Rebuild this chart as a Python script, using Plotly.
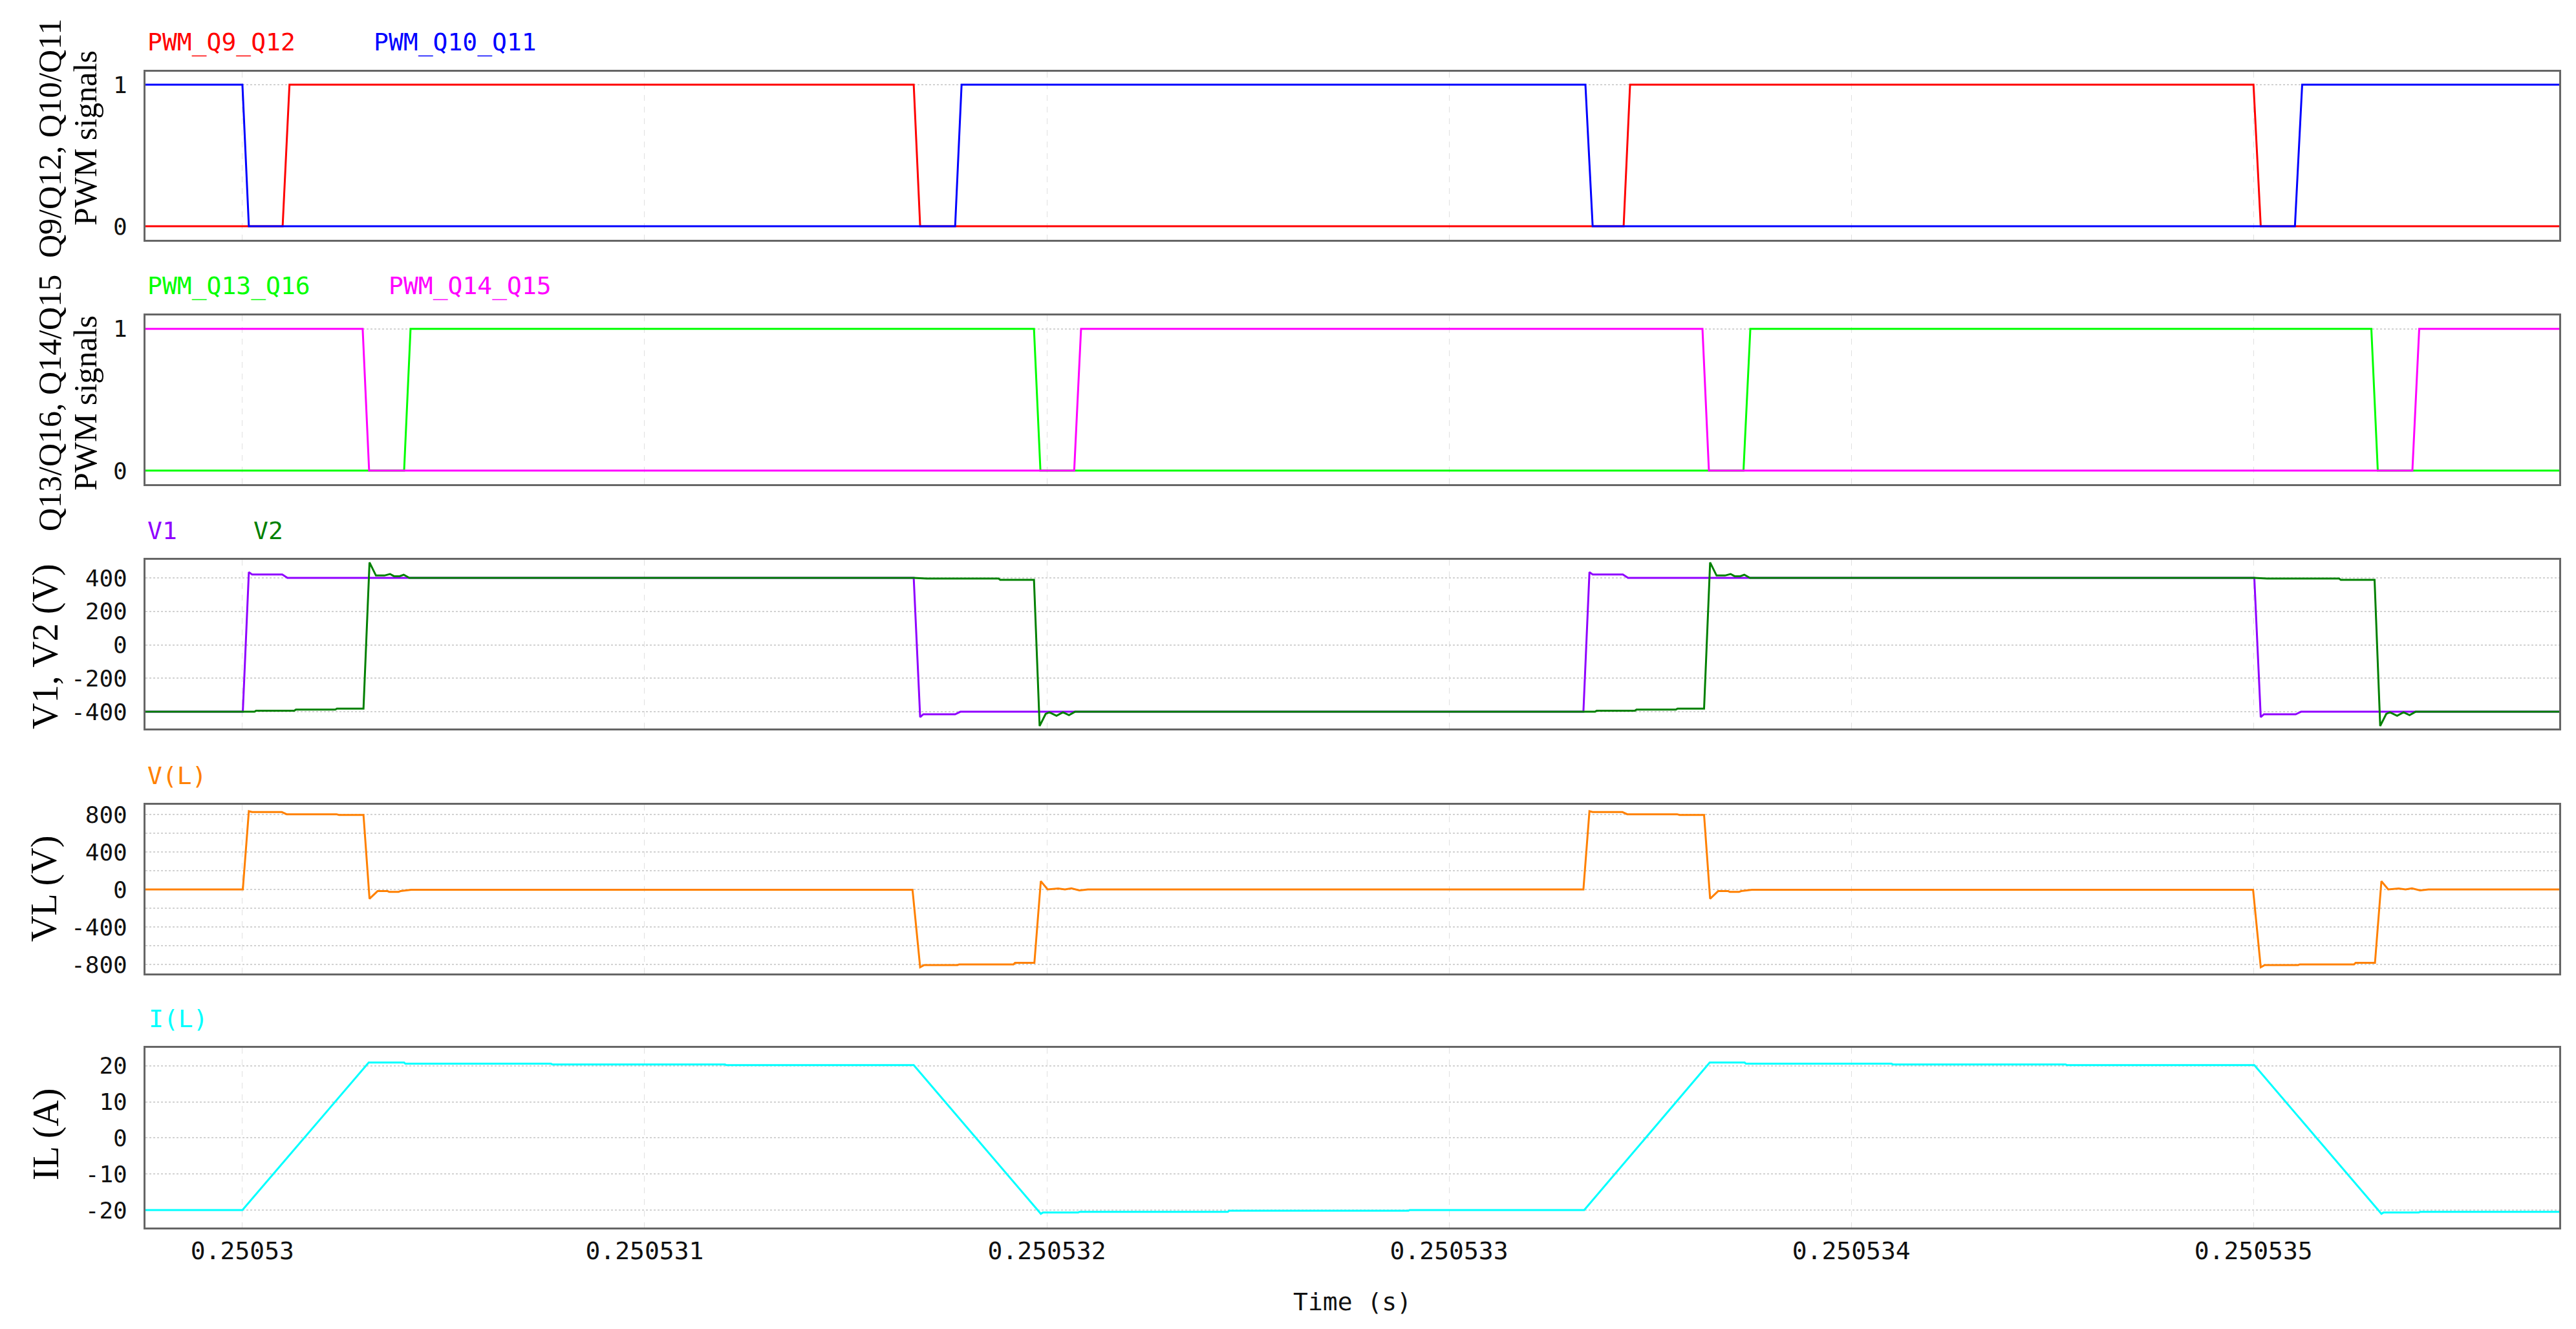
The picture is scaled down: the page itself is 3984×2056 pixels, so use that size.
import plotly.graph_objects as go
from plotly.subplots import make_subplots

# ---------------- data (time offsets in microseconds after 0.25053 s) -------------
T0 = 0.25053
US = 1e-6

t_q9 = [-0.25, 0.100, 0.117, 1.669, 1.685, 3.434, 3.450, 5.000, 5.018, 5.77]
v_q9 = [0, 0, 1, 1, 0, 0, 1, 1, 0, 0]
t_q10 = [-0.25, 0.000, 0.016, 1.772, 1.788, 3.339, 3.357, 5.103, 5.121, 5.77]
v_q10 = [1, 1, 0, 0, 1, 1, 0, 0, 1, 1]

t_q13 = [-0.25, 0.402, 0.418, 1.968, 1.984, 3.732, 3.749, 5.293, 5.309, 5.77]
v_q13 = [0, 0, 1, 1, 0, 0, 1, 1, 0, 0]
t_q14 = [-0.25, 0.299, 0.315, 2.068, 2.085, 3.630, 3.646, 5.395, 5.412, 5.77]
v_q14 = [1, 1, 0, 0, 1, 1, 0, 0, 1, 1]

t_v1 = [-0.25, 0.001, 0.016, 0.024, 0.099, 0.112, 1.669, 1.685, 1.693, 1.772, 1.785,
        3.334, 3.349, 3.357, 3.432, 3.445, 5.002, 5.018, 5.026, 5.105, 5.118, 5.77]
v_v1 = [-400, -400, 434, 420, 420, 400, 400, -432, -415, -415, -400,
        -400, 434, 420, 420, 400, 400, -432, -415, -415, -400, -400]

t_v2 = [-0.25, 0.002, 0.030, 0.034, 0.129, 0.133, 0.231, 0.235, 0.301, 0.316, 0.332,
        0.353, 0.367, 0.377, 0.391, 0.401, 0.415, 1.669, 1.701, 1.880, 1.884, 1.968,
        1.982, 1.997, 2.006, 2.024, 2.040, 2.055, 2.070,
        3.335, 3.363, 3.367, 3.462, 3.466, 3.564, 3.568, 3.634, 3.649, 3.665,
        3.686, 3.700, 3.710, 3.724, 3.734, 3.748, 5.002, 5.034, 5.213, 5.217, 5.301,
        5.315, 5.330, 5.339, 5.357, 5.373, 5.388, 5.403, 5.77]
v_v2 = [-400, -400, -400, -394, -394, -387, -387, -381, -381, 492, 414,
        414, 423, 410, 410, 419, 400, 400, 396, 396, 388, 388,
        -485, -413, -403, -424, -403, -420, -400,
        -400, -400, -394, -394, -387, -387, -381, -381, 492, 414,
        414, 423, 410, 410, 419, 400, 400, 396, 396, 388, 388,
        -485, -413, -403, -424, -403, -420, -400, -400]

t_vl = [-0.25, 0.001, 0.016, 0.024, 0.098, 0.110, 0.234, 0.240, 0.301, 0.316, 0.336,
        0.361, 0.365, 0.388, 0.393, 0.407, 0.420, 1.666, 1.685, 1.695, 1.778, 1.782,
        1.917, 1.921, 1.969, 1.985, 2.002, 2.028, 2.045, 2.061, 2.081, 2.102,
        3.334, 3.349, 3.357, 3.431, 3.443, 3.567, 3.573, 3.634, 3.649, 3.669,
        3.694, 3.698, 3.721, 3.726, 3.740, 3.753, 4.999, 5.018, 5.028, 5.111, 5.115,
        5.250, 5.254, 5.302, 5.318, 5.335, 5.361, 5.378, 5.394, 5.414, 5.435, 5.77]
v_vl = [0, 0, 834, 825, 825, 802, 802, 795, 795, -99, -18,
        -18, -27, -27, -18, -13, -4, -4, -830, -807, -807, -800,
        -800, -784, -784, 88, 0, 10, 0, 12, -10, 0,
        0, 834, 825, 825, 802, 802, 795, 795, -99, -18,
        -18, -27, -27, -18, -13, -4, -4, -830, -807, -807, -800,
        -800, -784, -784, 88, 0, 10, 0, 12, -10, 0, 0]

t_il = [-0.25, 0.000, 0.314, 0.402, 0.405, 0.767, 0.770, 1.200, 1.203, 1.669,
        1.985, 1.990, 2.078, 2.081, 2.450, 2.453, 2.899, 2.902, 3.336,
        3.648, 3.735, 3.738, 4.100, 4.103, 4.533, 4.536, 5.002,
        5.318, 5.323, 5.411, 5.414, 5.77]
v_il = [-20.0, -20.0, 20.9, 20.9, 20.6, 20.6, 20.4, 20.4, 20.2, 20.2,
        -21.05, -20.7, -20.7, -20.5, -20.5, -20.2, -20.2, -20.0, -20.0,
        20.9, 20.9, 20.6, 20.6, 20.4, 20.4, 20.2, 20.2,
        -21.05, -20.7, -20.7, -20.5, -20.5]

x_tickvals = [0.25053, 0.250531, 0.250532, 0.250533, 0.250534, 0.250535]
x_ticktext = ["0.25053", "0.250531", "0.250532", "0.250533", "0.250534", "0.250535"]

pwm_ticks = [0, 1]
v12_ticks = [-400, -200, 0, 200, 400]
vl_ticks = [-800, -400, 0, 400, 800]
vl_minor = [-600, -200, 200, 600]
il_ticks = [-20, -10, 0, 10, 20]

# ---------------- figure -------------
MONO = "DejaVu Sans Mono"
SERIF = "Liberation Serif"

W, H = 3984, 2056
L, R, T, B = 217, 34, 103, 165
PW = W - L - R
PH = H - T - B


def px_x(px):
    return (px - L) / PW


def px_y(py):
    return (H - B - py) / PH


def xs(tl):
    return [T0 + t * US for t in tl]


fig = make_subplots(rows=5, cols=1, shared_xaxes=True)

series = [
    (1, t_q9, v_q9, "PWM_Q9_Q12", "#ff0000"),
    (1, t_q10, v_q10, "PWM_Q10_Q11", "#0000ff"),
    (2, t_q13, v_q13, "PWM_Q13_Q16", "#00ff00"),
    (2, t_q14, v_q14, "PWM_Q14_Q15", "#ff00ff"),
    (3, t_v1, v_v1, "V1", "#8f00ff"),
    (3, t_v2, v_v2, "V2", "#008000"),
    (4, t_vl, v_vl, "V(L)", "#ff8000"),
    (5, t_il, v_il, "I(L)", "#00ffff"),
]
for row, tl, vl, name, col in series:
    fig.add_trace(go.Scatter(x=xs(tl), y=vl, mode="lines", name=name,
                             line=dict(color=col, width=3), showlegend=False),
                  row=row, col=1)

domains = [(px_y(363), px_y(103)), (px_y(741), px_y(480)), (px_y(1119), px_y(858)),
           (px_y(1498), px_y(1237)), (0.0, px_y(1613))]
yranges = [[-0.096, 1.091], [-0.096, 1.095], [-500, 508], [-897, 903], [-24.85, 25.0]]
yticks = [pwm_ticks, pwm_ticks, v12_ticks, vl_ticks, il_ticks]

grid_col = "#d2d2d2"
xgrid_col = "#e0e0e0"
frame_col = "#666666"
for i in range(5):
    ykey = "yaxis" if i == 0 else f"yaxis{i+1}"
    xkey = "xaxis" if i == 0 else f"xaxis{i+1}"
    tv = yticks[i]
    yax = dict(domain=list(domains[i]), range=yranges[i], tickvals=tv,
               ticktext=[str(v) for v in tv], showgrid=True, gridcolor=grid_col,
               gridwidth=1.5, griddash="dot", zeroline=False, showline=True,
               mirror=True, linecolor=frame_col, linewidth=3, ticks="",
               ticklabelstandoff=18,
               tickfont=dict(family=MONO, size=36, color="#111111"))
    if i == 3:
        yax["minor"] = dict(tickvals=vl_minor, showgrid=True, gridcolor=grid_col,
                            gridwidth=1.5, griddash="dot", ticks="")
    fig.layout[ykey] = yax
    fig.layout[xkey].update(range=[T0 - 0.241 * US, T0 + 5.760 * US],
                            tickvals=x_tickvals, ticktext=x_ticktext,
                            showgrid=True, gridcolor=xgrid_col, gridwidth=1.2,
                            griddash="dash", zeroline=False, showline=True,
                            mirror=True, linecolor=frame_col, linewidth=3, ticks="",
                            tickfont=dict(family=MONO, size=38, color="#111111"))
fig.layout.xaxis5.update(showticklabels=True, ticklabelstandoff=0)

ann = []
# series labels above each panel
labels = [
    ("PWM_Q9_Q12", "#ff0000", 218, 57), ("PWM_Q10_Q11", "#0000ff", 568, 57),
    ("PWM_Q13_Q16", "#00ff00", 218, 434), ("PWM_Q14_Q15", "#ff00ff", 591, 434),
    ("V1", "#8f00ff", 218, 813), ("V2", "#008000", 382, 813),
    ("V(L)", "#ff8000", 218, 1192), ("I(L)", "#00ffff", 220, 1568),
]
for txt, col, xp, yp in labels:
    ann.append(dict(text=txt, x=px_x(xp), y=px_y(yp), xref="paper", yref="paper",
                    xanchor="left", yanchor="middle", showarrow=False,
                    font=dict(family=MONO, size=38, color=col)))

ytitles = [
    ("Q9/Q12, Q10/Q11", 69, 206, 50), ("PWM signals", 124, 206, 50),
    ("Q13/Q16, Q14/Q15", 69, 616, 50), ("PWM signals", 124, 616, 50),
    ("V1, V2 (V)", 63, 992, 56), ("VL (V)", 60, 1367, 56), ("IL (A)", 63, 1747, 56),
]
for txt, xp, yp, fs in ytitles:
    ann.append(dict(text=txt, x=px_x(xp), y=px_y(yp), xref="paper", yref="paper",
                    xanchor="center", yanchor="middle", showarrow=False, textangle=-90,
                    font=dict(family=SERIF, size=fs, color="#000000")))

ann.append(dict(text="Time (s)", x=0.5, y=px_y(2006), xref="paper", yref="paper",
                xanchor="center", yanchor="middle", showarrow=False,
                font=dict(family=MONO, size=38, color="#111111")))

fig.update_layout(width=W, height=H, autosize=False,
                  margin=dict(l=L, r=R, t=T, b=B, pad=0),
                  paper_bgcolor="white", plot_bgcolor="white",
                  annotations=ann, showlegend=False)

fig.write_html("out.html")
